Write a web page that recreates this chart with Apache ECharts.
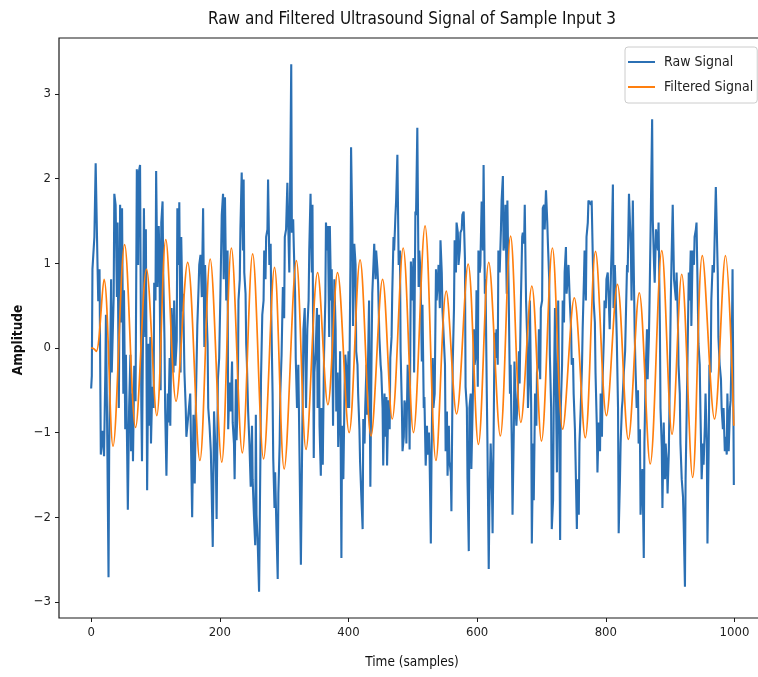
<!DOCTYPE html>
<html>
<head>
<meta charset="utf-8">
<script src="https://cdn.jsdelivr.net/npm/echarts@6/dist/echarts.min.js"></script>
<style>html,body{margin:0;padding:0;background:#fff;overflow:hidden;width:758px;height:677px;}#c{width:790px;height:677px;}</style>
</head>
<body>
<div id="c"></div>
<script>
// ---- data ----
const chartTitle = 'Raw and Filtered Ultrasound Signal of Sample Input 3';
const xAxisTitle = 'Time (samples)';
const yAxisTitle = 'Amplitude';
const seriesNames = ['Raw Signal', 'Filtered Signal'];
const xTicks = [0, 200, 400, 600, 800, 1000];
const yTicks = [-3, -2, -1, 0, 1, 2, 3];

const rawSamples = [0,1,2,5,7,10,11,13,15,18,20,22,23,25,27,28,31,32,35,36,38,40,41,43,45,47,48,50,51,53,54,56,57,59,61,62,64,65,67,69,71,73,74,76,78,79,81,82,84,85,87,89,90,92,93,95,97,98,100,101,103,105,106,108,109,111,112,114,115,117,119,120,122,123,125,126,128,129,131,133,134,136,137,139,140,142,143,145,147,148,150,
154,157,159,161,163,165,167,168,170,172,174,176,177,179,181,182,184,186,187,189,191,193,194,195,197,199,201,203,205,206,208,210,212,213,215,217,219,220,222,223,225,226,228,229,231,232,234,236,237,238,240,241,242,244,246,248,250,251,253,255,256,257,259,261,263,264,266,268,269,271,272,274,275,277,279,280,282,283,285,286,288,290,291,293,294,296,298,300,301,303,305,306,308,309,311,312,314,315,317,318,320,322,323,325,326,328,
330,332,334,336,338,339,341,343,344,346,347,349,351,352,354,355,357,358,360,362,364,365,367,368,370,371,373,374,376,378,380,381,383,384,386,387,389,390,392,394,395,397,398,400,401,403,404,406,407,409,411,412,414,415,417,418,420,422,423,425,426,428,429,431,432,434,436,437,439,440,442,443,445,446,448,450,451,453,454,456,457,459,460,462,464,465,467,468,470,471,473,474,476,478,480,481,483,484,486,487,489,490,492,494,495,
497,499,501,502,504,505,507,509,510,512,514,515,517,518,520,522,523,525,526,528,529,531,532,534,536,537,539,540,542,543,545,546,548,550,551,553,554,556,557,559,560,562,564,565,567,568,570,571,573,574,576,577,579,581,582,584,585,587,588,590,591,593,595,596,598,599,601,602,604,605,607,609,610,612,613,615,616,618,619,621,623,624,626,627,629,630,632,633,635,637,638,640,641,643,644,646,647,649,651,652,654,655,657,658,660,661,663,665,666,
668,670,671,673,674,676,678,679,681,682,684,685,687,688,690,692,693,695,696,698,699,701,702,704,705,707,709,710,712,713,715,716,718,719,721,722,724,726,727,729,730,732,733,735,736,738,739,741,742,744,746,747,749,750,752,753,755,756,758,759,761,763,764,766,767,769,770,772,773,775,777,778,780,781,783,784,786,787,789,791,792,794,795,797,798,800,801,803,805,806,808,809,811,812,814,815,817,819,820,822,823,825,826,828,830,831,833,834,836,
839,840,842,843,845,846,848,850,851,853,854,856,857,859,860,862,864,865,867,868,870,872,873,875,876,878,879,881,882,884,885,887,888,890,892,893,895,896,898,899,901,902,904,906,907,909,910,912,913,915,916,918,920,921,923,924,926,927,929,930,932,933,935,937,938,940,941,943,944,946,947,949,951,952,954,955,957,958,960,961,963,964,966,968,969,971,972,974,975,977,979,980,982,983,985,986,988,989,991,993,994,996,997,999];

const rawValues = [-0.48,-0.33,0.93,1.31,2.18,0.93,0.55,0.93,-1.26,-0.98,-1.28,-0.29,0.39,-1.05,-2.71,-1.22,0.81,-0.29,0.60,1.82,1.69,0.60,1.48,-0.71,1.69,0.30,1.65,-0.54,0.68,-0.96,-0.08,-1.26,-1.91,-0.71,-0.08,-1.22,-0.54,-1.34,-0.21,-0.63,2.11,0.98,2.07,2.16,-0.71,-1.34,0.56,1.65,0.13,1.40,-1.68,0.05,-0.92,0.13,-1.13,-0.46,-0.71,0.77,0.56,2.09,0.72,1.44,1.15,-0.50,1.48,1.73,0.89,0.09,-0.71,-1.51,-0.54,-0.88,-0.12,-0.92,0.47,0.30,-0.29,0.56,-0.21,0.09,1.65,0.98,1.72,-0.29,1.31,0.43,0.64,-0.29,-0.71,-1.05,-1.07,
-0.54,-2.00,-0.79,-1.60,-0.54,0.26,0.72,0.98,1.10,0.60,1.65,0.01,0.98,0.51,0.05,-0.71,-0.92,-1.22,-1.55,-2.35,-0.75,-1.17,-1.47,-2.02,-0.37,-0.12,0.68,1.57,1.82,0.81,1.78,0.56,1.15,-0.96,-0.41,-0.75,-0.16,-0.88,-1.13,-1.55,-0.37,-1.09,-0.54,0.56,0.81,1.40,2.07,1.15,1.99,0.89,0.64,0.05,-0.16,-0.75,-1.13,-1.64,-0.92,-1.55,-1.97,-2.33,-0.79,-1.97,-2.33,-2.88,-1.34,-0.37,0.39,0.56,1.15,0.81,1.31,1.40,1.99,0.98,1.23,0.39,-0.54,-1.30,-1.89,-1.47,-2.14,-2.73,-1.72,-1.13,-0.54,-0.08,0.72,0.35,1.31,1.40,1.95,1.57,0.89,1.65,3.35,1.36,1.52,1.19,0.64,-0.12,-0.71,-0.20,-0.75,-1.97,-2.56,-1.13,
0.22,0.47,-0.71,0.22,0.56,1.15,1.82,0.89,1.69,-1.30,-0.29,-0.04,0.47,-0.71,0.39,-0.92,-1.51,-0.71,-1.38,-0.08,0.56,1.48,1.15,1.44,0.13,1.44,0.56,0.93,-0.92,0.81,0.22,-0.75,-0.29,-1.17,-0.62,-0.04,-2.48,-0.92,-1.55,-0.46,-0.08,-0.29,-0.71,-0.04,-0.71,0.98,2.37,1.40,0.26,1.23,0.98,-0.04,-0.20,-0.54,-0.96,-1.34,-1.76,-2.14,-0.84,-1.13,-0.71,-0.20,-0.79,0.13,0.56,-1.64,0.05,0.64,1.02,1.23,0.81,1.15,0.93,0.77,0.13,-0.20,-0.29,-0.71,-1.39,-0.54,-1.05,-0.58,-1.39,-0.62,-0.96,-0.12,0.13,0.64,1.31,1.15,1.57,1.73,2.28,0.98,1.15,-0.04,-0.71,-1.22,-1.05,-0.62,-0.71,-1.13,-0.20,-0.62,-1.20,
1.02,0.56,1.06,-0.29,1.61,1.57,2.60,0.72,1.15,0.89,-0.16,0.51,-0.71,-0.58,-1.39,-0.92,-1.26,-1.00,-1.26,-2.31,-1.34,-0.12,-0.71,-0.54,0.93,0.56,0.81,0.98,0.47,1.27,0.89,0.47,0.13,-0.20,-1.22,-0.75,-1.51,-0.92,-1.34,-1.47,-1.93,-0.20,0.47,1.27,0.89,1.48,1.36,0.98,1.15,1.36,1.40,1.57,1.61,1.06,-0.46,-0.71,-1.55,-2.40,-0.71,-0.54,-1.43,-0.71,0.22,-0.20,-0.08,0.68,-0.46,1.15,0.89,0.98,1.73,1.15,2.16,0.64,0.81,-0.54,-1.13,-2.61,-1.89,-1.13,-1.68,-2.19,-0.71,0.18,-0.12,0.22,-0.20,1.15,0.89,1.40,1.74,2.03,1.15,1.27,1.69,0.64,1.74,0.64,-0.54,-0.20,-1.22,-1.97,-0.96,-0.16,-0.75,-0.92,-0.58,-0.04,-0.42,
0.56,1.31,1.36,1.23,1.69,0.56,0.05,-0.71,-0.29,0.56,-0.71,-2.31,-1.13,-1.80,-0.54,-0.92,-0.29,-0.20,0.22,-0.37,0.47,0.56,1.65,1.69,1.40,1.86,1.48,1.23,0.81,-0.08,-0.71,-2.14,-1.80,-0.71,0.47,-0.20,-1.47,0.56,-0.29,-2.27,-0.71,-0.20,0.56,0.30,0.89,1.19,0.64,0.85,0.98,0.56,0.22,-0.20,-0.12,-0.54,-0.96,-1.34,-2.14,-1.55,-1.97,-1.13,-0.71,-0.20,0.22,0.81,1.15,0.56,1.31,1.48,1.74,1.76,1.69,1.74,0.98,0.56,0.30,-0.29,-0.92,-1.47,-0.88,-1.22,-0.54,-1.05,-0.37,0.13,0.56,0.47,0.81,0.89,0.47,0.22,0.89,1.15,1.93,0.47,0.98,0.72,0.13,-0.71,-2.19,-1.55,-1.13,-0.71,-0.62,-0.29,-0.04,0.30,0.98,0.89,1.82,
1.15,0.56,1.74,1.15,0.13,-0.20,-0.71,-0.50,-1.13,-0.96,-1.97,-1.55,-1.43,-2.48,-1.13,-0.29,0.22,-0.37,0.13,0.56,1.61,2.70,1.52,0.98,0.77,1.40,1.31,1.15,1.48,0.30,-0.71,-1.17,-1.89,-0.88,-1.55,-1.13,-1.38,-1.72,-1.22,-0.62,0.56,0.98,1.69,0.81,0.81,0.56,0.89,0.35,-0.20,-0.54,-1.13,-1.55,-1.76,-2.06,-2.82,-1.55,-0.62,-0.12,0.89,0.56,1.15,0.26,1.15,0.98,1.31,1.40,1.48,0.56,0.05,-0.20,-0.71,-1.55,-1.13,-1.38,-0.92,-0.54,-1.13,-2.31,-1.13,-0.20,-0.29,0.56,0.98,0.89,1.23,1.90,1.57,0.89,0.13,-0.20,-0.37,-0.71,-0.96,-0.71,-1.22,-1.05,-1.26,-0.54,-1.22,-0.71,-0.62,0.13,0.93,-1.62];

const filteredSamples = [0,4,8,20,34,52,69,86,102,116,132,150,169,185,203,218,235,251,268,285,300,319,334,352,368,383,401,418,435,453,468,485,501,519,536,552,568,586,602,618,636,652,668,685,700,717,733,751,768,784,801,818,835,852,869,887,903,918,935,950,969,986,999];
const filteredValues = [0.00,-0.01,-0.04,0.81,-1.16,1.22,-0.94,0.93,-0.80,1.28,-0.63,1.01,-1.33,1.05,-1.35,1.18,-1.24,1.11,-1.31,0.95,-1.43,1.03,-1.20,0.89,-0.67,0.89,-1.00,1.04,-1.04,0.81,-0.84,1.18,-1.00,1.44,-1.33,0.67,-0.78,0.99,-1.14,1.01,-1.04,1.32,-0.88,0.73,-1.10,1.18,-0.96,0.59,-1.06,1.14,-0.80,0.75,-1.08,0.65,-1.37,1.15,-1.02,0.87,-1.53,1.09,-0.84,1.09,-0.92];

// ---- chart ----
const FONT = "'DejaVu Sans Condensed', 'DejaVu Sans', sans-serif";
const rawData = rawSamples.map((s, i) => [s, rawValues[i]]);
const filteredData = filteredSamples.map((s, i) => [s, filteredValues[i]]);
const minusFmt = v => (v < 0 ? '\u2212' + Math.abs(v) : String(v));

const chart = echarts.init(document.getElementById('c'), null, { renderer: 'canvas' });
chart.setOption({
  animation: false,
  backgroundColor: '#ffffff',
  textStyle: { fontFamily: FONT },
  grid: { left: 59, top: 38, width: 707, height: 580, show: true, borderColor: '#1a1a1a', borderWidth: 1.2, backgroundColor: 'transparent' },
  xAxis: {
    type: 'value', min: -50, max: 1049,
    axisLine: { show: false, onZero: false }, splitLine: { show: false },
    axisTick: { show: true, length: 4, lineStyle: { color: '#1a1a1a', width: 1 }, customValues: xTicks },
    axisLabel: { customValues: xTicks, fontSize: 13, color: '#222', margin: 8, fontFamily: FONT, formatter: minusFmt }
  },
  yAxis: {
    type: 'value', min: -3.19, max: 3.66,
    axisLine: { show: false, onZero: false }, splitLine: { show: false },
    axisTick: { show: true, length: 4, lineStyle: { color: '#1a1a1a', width: 1 }, customValues: yTicks },
    axisLabel: { customValues: yTicks, fontSize: 13, color: '#222', margin: 8, fontFamily: FONT, formatter: minusFmt }
  },
  legend: {
    orient: 'vertical', left: 625, top: 47,
    padding: [8, 4, 9, 3], itemGap: 11, itemWidth: 27, itemHeight: 2, icon: 'rect',
    backgroundColor: 'rgba(255,255,255,0.85)', borderColor: '#cccccc', borderWidth: 1, borderRadius: 3,
    textStyle: { fontSize: 14, color: '#222', fontFamily: FONT, padding: [0, 0, 0, 4] },
    data: seriesNames
  },
  series: [
    { name: seriesNames[0], type: 'line', data: rawData, symbol: 'none', showSymbol: false,
      lineStyle: { color: '#2b70b4', width: 2.1 }, itemStyle: { color: '#2b70b4' }, z: 2 },
    { name: seriesNames[1], type: 'line', data: filteredData, symbol: 'none', showSymbol: false, smooth: 0.35,
      lineStyle: { color: '#ff7f0e', width: 1.7 }, itemStyle: { color: '#ff7f0e' }, z: 3 }
  ],
  graphic: [
    { type: 'text', x: 412, y: 20, style: { text: chartTitle, fontSize: 17, fontFamily: FONT, fill: '#111', align: 'center', verticalAlign: 'middle' } },
    { type: 'text', x: 412, y: 662, style: { text: xAxisTitle, fontSize: 13.5, fontFamily: FONT, fill: '#111', align: 'center', verticalAlign: 'middle' } },
    { type: 'text', x: 18, y: 340, rotation: Math.PI / 2, style: { text: yAxisTitle, fontSize: 13.5, fontWeight: 'bold', fontFamily: FONT, fill: '#111', align: 'center', verticalAlign: 'middle' } }
  ]
});
</script>
</body>
</html>
